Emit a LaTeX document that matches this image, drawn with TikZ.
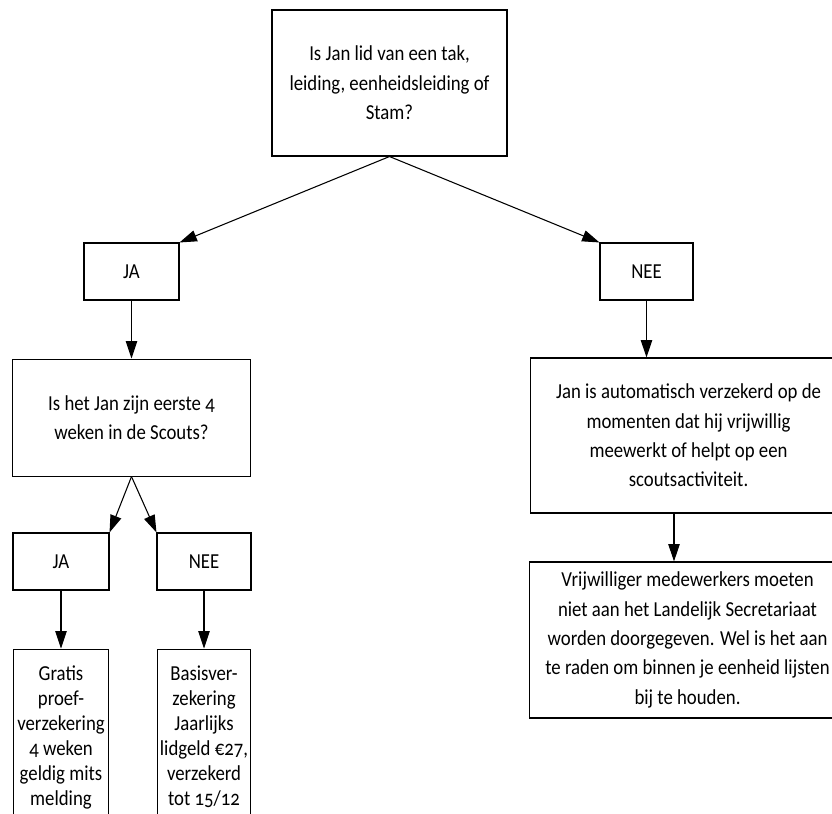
\documentclass[tikz,border=0pt]{standalone}
\usepackage{fontspec}
\setmainfont{Carlito}[Numbers=OldStyle, FakeStretch=0.88]
\usepackage{tikz}
\usetikzlibrary{arrows.meta}
\usetikzlibrary{positioning}
\newlength{\px}
\setlength{\px}{0.75pt}
\tikzstyle{block} = [draw, line width=0.8pt, inner sep=0pt, align=center,
	font=\fontsize{16}{22}\selectfont]
\tikzstyle{answer} = [block,
	minimum width = 95\px,
	minimum height = 57\px]
\tikzstyle{result} = [block, font=\fontsize{16}{18.75}\selectfont,
	minimum width = 95\px,
	minimum height = 176\px]
\tikzstyle{wide} = [block, anchor=west, minimum width=316\px, minimum height=156\px]
\tikzstyle{arrow} =[-{Triangle[length=13pt, width=8.5pt]}, line width=0.8pt]

\begin{document}
\begin{tikzpicture}[x=0.75pt, y=-0.75pt]
	\useasboundingbox (0,0) rectangle (832,814);
	\node (stam) [block, minimum width=235\px, minimum height=146\px] at (389.5,83) {Is Jan lid van een tak,\\ leiding, eenheidsleiding of\\ Stam?};
	
	\node (ja) [answer] at (131.5,271.5) {JA};
	\node (nee) [answer, minimum width=93\px] at (646.5,271.5) {NEE};
	\node (weken) [block, minimum width=238\px, minimum height=117\px, below=58\px of ja] {Is het Jan zijn eerste 4\\ weken in de Scouts?};
	\node (vrij) [wide, minimum height=155\px] at (530,435.5) {Jan is automatisch verzekerd op de\\ momenten dat hij vrijwillig\\ meewerkt of helpt op een\\ scoutsactiviteit.};
	\node (lijst) [wide] at (529,640) {Vrijwilliger medewerkers moeten\\ niet aan het Landelijk Secretariaat\\ worden doorgegeven. Wel is het aan\\ te raden om binnen je eenheid lijsten\\ bij te houden.};
	\coordinate (split) at (674,0);
	
	\node (ja2) [answer, minimum width=96\px] at (61,561.5) {JA};
	\node (nee2) [answer, minimum width=94\px] at (204,561.5) {NEE};
	\node (gratis) [result, below=58\px of ja2] {Gratis\\ proef-\\ verzekering\\ 4 weken\\ geldig mits\\ melding};
	\node (basis) [result, minimum width=93\px, below=58\px of nee2] {Basisver-\\ zekering\\ Jaarlijks\\ lidgeld €27,\\ verzekerd\\ tot 15/12};
	
	\draw [arrow] (stam.south) -- (ja.north east);
	\draw [arrow] (stam.south) -- (nee.north west);
	\draw [arrow] (ja) -- (weken);
	\draw [arrow] (nee.south) -- (nee.south |- vrij.north);
	\draw [arrow] (weken.south) -- (ja2.north east);
	\draw [arrow] (weken.south) -- (nee2.north west);
	\draw [arrow] (ja2) -- (gratis);
	\draw [arrow] (nee2) -- (basis);
	\draw [arrow] (vrij.south -| split) -- (lijst.north -| split);
\end{tikzpicture}
\end{document}
